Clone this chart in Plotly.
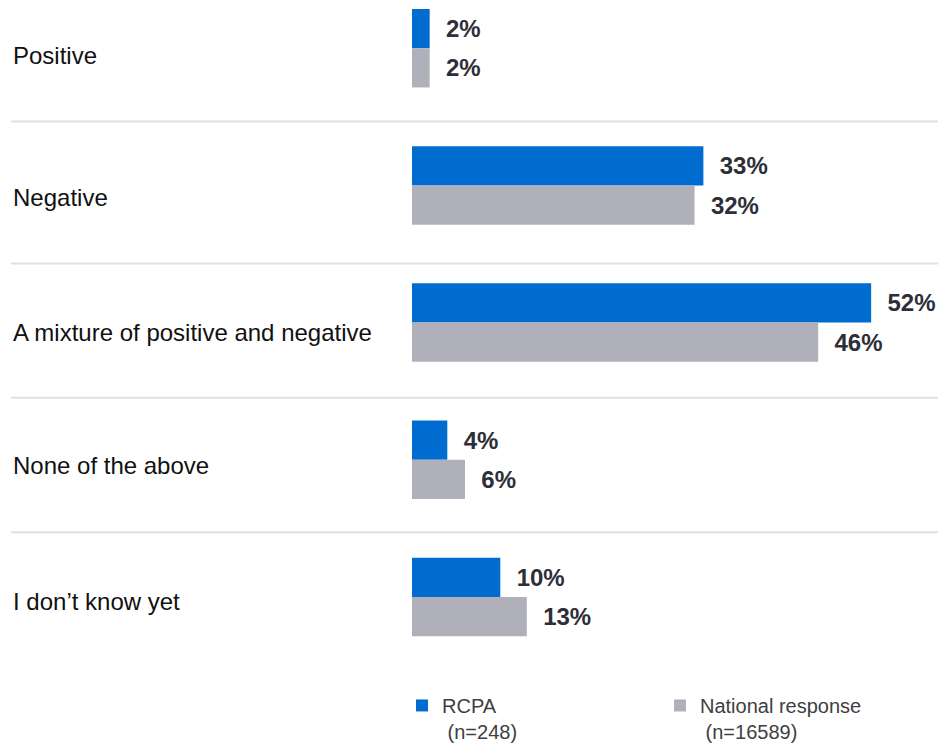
import plotly.graph_objects as go

categories = ["Positive", "Negative", "A mixture of positive and negative",
              "None of the above", "I don\u2019t know yet"]
rcpa_values = [2, 33, 52, 4, 10]
national_values = [2, 32, 46, 6, 13]
series_names = ["RCPA<br> (n=248)", "National response<br> (n=16589)"]

BLUE = "#006CD0"
GRAY = "#B0B0BB"
TEXT_DARK = "#2E2E38"
FONT = "Liberation Sans, Arial, sans-serif"

W, H = 938, 751
L, R, T, B = 412, 0, 0, 79
plot_w = W - L - R
plot_h = H - T - B
px_per_unit = 8.83
unit_y = 137.6
center0 = 48.35

fig = go.Figure()
for name, vals, col in [(series_names[0], rcpa_values, BLUE),
                        (series_names[1], national_values, GRAY)]:
    fig.add_trace(go.Bar(
        y=categories, x=vals, name=name, orientation="h",
        marker=dict(color=col, line=dict(width=0)),
        text=[f"\u00a0\u00a0{v}%" for v in vals],
        textposition="outside", cliponaxis=False, constraintext="none",
        textfont=dict(family=FONT, size=24, color=TEXT_DARK, weight="bold"),
        hoverinfo="skip",
    ))

# separator lines
sep_positions = [0.535, 1.569, 2.548, 3.529]
for s in sep_positions:
    fig.add_shape(type="line", xref="paper", yref="y",
                  x0=(11 - L) / plot_w, x1=1, y0=s, y1=s,
                  line=dict(color="#E0E0E0", width=2), layer="below")

# category labels (left aligned)
label_pos = [0.05, 1.09, 2.07, 3.04, 4.03]
for c, p in zip(categories, label_pos):
    fig.add_annotation(xref="paper", yref="y", x=(11 - L) / plot_w, y=p,
                       text=c, showarrow=False, xanchor="left", yanchor="middle",
                       font=dict(family=FONT, size=24, color="#111111"))

y_top = -center0 / unit_y
y_bot = (plot_h - center0) / unit_y

fig.update_layout(
    width=W, height=H,
    margin=dict(l=L, r=R, t=T, b=B, pad=0),
    paper_bgcolor="white", plot_bgcolor="white",
    barmode="group", bargap=0.428, bargroupgap=0,
    xaxis=dict(range=[0, plot_w / px_per_unit], visible=False, fixedrange=True),
    yaxis=dict(type="category", range=[y_bot, y_top], visible=False,
               fixedrange=True, categoryorder="array", categoryarray=categories),
    showlegend=True,
    legend=dict(orientation="h", x=(402 - 412) / plot_w, xanchor="left",
                y=(plot_h - 688) / plot_h, yanchor="top",
                valign="top", entrywidth=213, entrywidthmode="pixels",
                font=dict(family=FONT, size=20, color="#404040"),
                itemclick=False, itemdoubleclick=False,
                bgcolor="rgba(0,0,0,0)"),
    font=dict(family=FONT),
)

fig.write_html("out.html",
               config={"displayModeBar": False, "staticPlot": True},
               post_script="document.body.style.margin='0';"
                           "document.body.style.overflow='hidden';")
